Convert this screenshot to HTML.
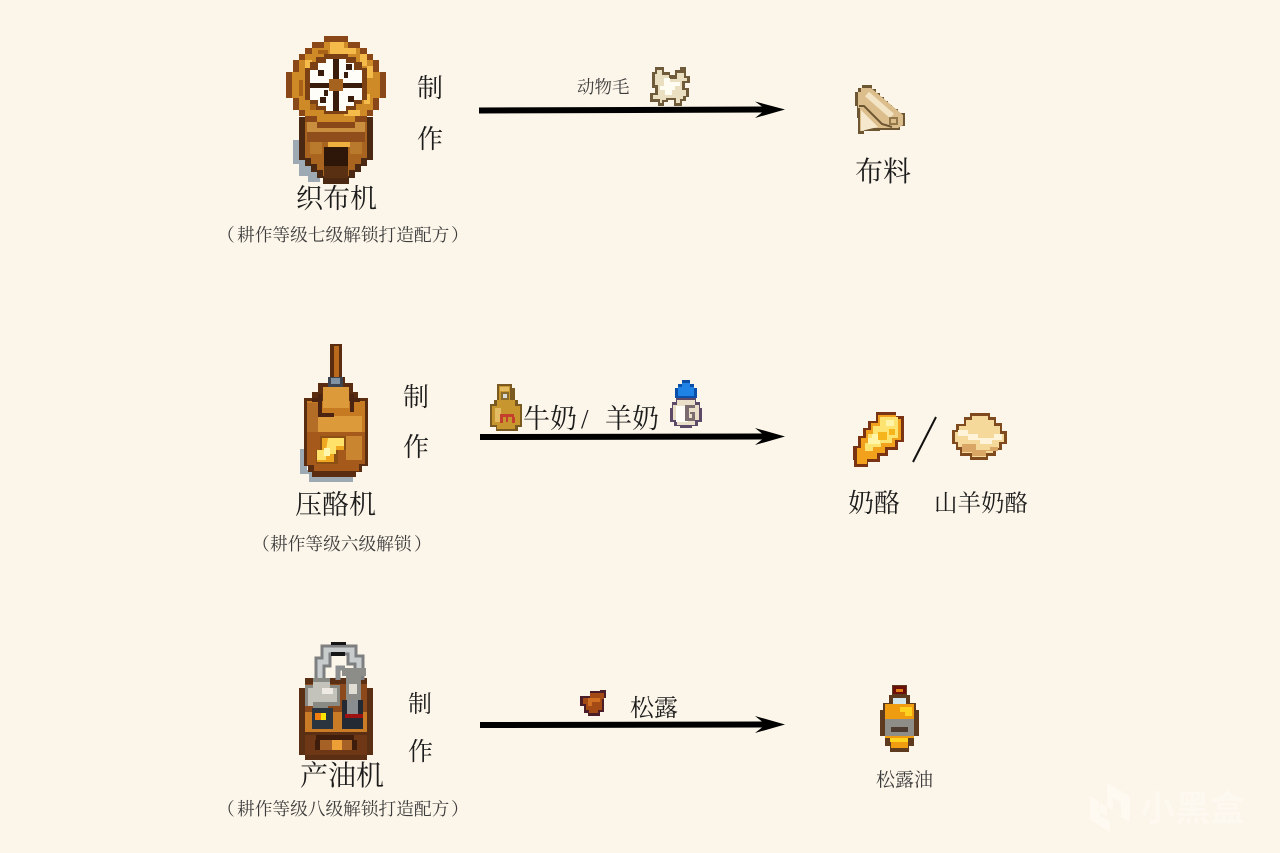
<!DOCTYPE html>
<html lang="zh"><head><meta charset="utf-8"><title>机器配方</title>
<style>
html,body{margin:0;padding:0;background:#fcf5e9}
svg{display:block;filter:blur(.35px)}
text{font-family:"Liberation Serif","Noto Serif CJK SC",serif;fill:#1c1c1c}
.s{fill:#3c3c3c}
.w{font-family:"Liberation Sans","Noto Sans CJK SC",sans-serif;font-weight:700;fill:#fffdf8;opacity:.55}
</style></head><body>
<svg width="1280" height="853" viewBox="0 0 1280 853" xmlns="http://www.w3.org/2000/svg">
<rect width="1280" height="853" fill="#fcf5e9"/>

<!-- arrows -->
<g fill="#000">
<path d="M479 107.500L762 106.500L755 101.500L785 109.500L755 118L762 112.500L479 113.500Z"/>
<path d="M480 434L762 433.500L755 428L785 436.500L755 445L762 439.500L480 440Z"/>
<path d="M480 722L762 721.500L755 716L785 724.500L755 733L762 727.500L480 728Z"/>
</g>

<!-- spinning wheel -->
<g>
<path fill="#9eaab3" d="M293 140H301V156H306V166H312V172H320V182H308V176H299V164H293Z"/>
<path fill="#4a2812" d="M299 117H373V160H367V166H361V172H355V178H349V184H323V178H317V172H311V166H305V160H299Z"/>
<path fill="#a9651f" d="M305 120H367V158H361V164H355V170H349V176H323V170H317V164H311V158H305Z"/>
<path fill="#c98f3e" d="M307 122H365V134H307Z"/>
<path fill="#8f4e1c" d="M307 132H365V142H307Z"/>
<path fill="#b97a2e" d="M310 142H322V154H310ZM350 142H362V154H350Z"/>
<path fill="#f0b040" d="M328 142H350V147H328Z"/>
<path fill="#2e1608" d="M324 147H348V168H324Z"/>
<path fill="#5a3012" d="M324 166H348V178H324Z"/>
<path fill="#8a4718" d="M324 36H348V42H360V48H367V54H373V60H379V72H386V98H379V110H373V116H367V122H355V128H317V122H305V116H299V110H293V98H286V72H293V60H299V54H305V48H312V42H324Z"/>
<path fill="#cf8a28" d="M324 42H348V48H360V54H367V60H373V72H380V98H373V110H367V116H355V122H317V116H305V110H299V98H292V72H299V60H305V54H312V48H324Z"/>
<path fill="#f5bb4a" d="M330 42H344V48H356V54H330ZM305 60H312V72H305ZM360 54H367V66H373V78H367V66H360ZM344 110H360V116H344ZM364 94H370V104H364Z"/>
<path fill="#a86218" d="M299 80H303V96H299ZM318 50H328V54H318ZM310 104H318V110H310Z"/>
<path fill="#7c4015" d="M324 54H348V57H356V62H362V68H367V100H362V104H356V110H348V114H324V110H316V104H310V100H305V68H310V62H316V57H324Z"/>
<path fill="#fffdf8" d="M326 59H346V63H354V70H362V100H354V106H346V111H326V106H318V100H310V70H318V63H326Z"/>
<path fill="#3a1c0c" d="M333 59H339V83H362V88H339V111H333V88H310V83H333ZM318 70H324V76H318ZM346 64H352V70H346ZM320 97H326V103H320ZM348 96H354V102H348ZM344 72H348V78H344ZM324 90H328V96H324Z"/>
<path fill="#a6621f" d="M329 79H343V91H329Z"/>
</g>

<!-- press -->
<g>
<path fill="#9eaab3" d="M300 449H307V470H312V476H353V482H309V474H300Z"/>
<path fill="#5a2c10" d="M330 344H342V377H345V383H353V392H358V398H368V466H362V472H356V477H312V472H308V466H304V398H312V392H318V383H328V377H330Z"/>
<path fill="#b96a1c" d="M334 346H339V377H334Z"/>
<path fill="#c67a22" d="M307 401H365V464H359V470H314V464H307Z"/>
<path fill="#dd9a3a" d="M323 387H349V408H323ZM316 416H362V432H316Z"/>
<path fill="#a55a1c" d="M307 432H365V464H359V471H314V465H307Z"/>
<path fill="#b46d26" d="M307 403H318V432H307Z"/>
<path fill="#4a2410" d="M318 394H322V413H334V417H318ZM350 394H354V412H350ZM312 398H318V402H312ZM354 398H360V402H354Z"/>
<path fill="#c9852f" d="M346 436H362V460H346Z"/>
<path fill="#3c4452" d="M328 377H343V387H328Z"/>
<path fill="#7f93a4" d="M331 378H340V384H331Z"/>
<path fill="#8c4f14" d="M320 436H346V450H338V464H316V450H320Z"/>
<path fill="#f0a820" d="M322 438H344V450H334V462H317V452H322Z"/>
<path fill="#ffe26a" d="M328 438H344V446H336V454H326V460H317V450H326Z"/>
<path fill="#fff7b0" d="M324 448H330V456H324Z"/>
</g>

<!-- oil maker -->
<g>
<path fill="#5a2f14" d="M305 678H367V688H373V755H367V760H305V755H299V688H305Z"/>
<path fill="#8c4a1c" d="M305 684H367V732H305Z"/>
<path fill="#c97b25" d="M305 712H367V732H305Z"/>
<path fill="#6e3716" d="M305 735H367V755H305Z"/>
<path fill="#3e1d0c" d="M316 735H354V740H316ZM315 740H320V750H315ZM352 740H357V750H352Z"/>
<path fill="#a66226" d="M320 740H352V750H320Z"/>
<path fill="#eda035" d="M332 740H342V750H332Z"/>
<path fill="none" stroke="#7e7f80" stroke-width="11" d="M320 692V662H326V650H352V660H359V680"/>
<path fill="none" stroke="#c8cccc" stroke-width="5" d="M320 688V662H326V650H352V660H359V676"/>
<path fill="none" stroke="#8d8e8f" stroke-width="5" d="M338 680V668H345"/>
<path fill="#151515" d="M331 642H346V645H331ZM331 652H345V656H331Z"/>
<path fill="#8a8a85" d="M313 678H330V685H340V706H328V712H313V706H305V685H313Z"/>
<path fill="#c4c3bb" d="M313 682H330V688H337V702H313V706H308V688H313Z"/>
<path fill="#eeeae3" d="M322 688H333V694H322Z"/>
<path fill="#2b3540" d="M312 708H333V729H312Z"/>
<path fill="#f07f10" d="M315 713H321V720H315Z"/>
<path fill="#ffe200" d="M321 713H326V720H321Z"/>
<path fill="#8c8c88" d="M342 668H366V676H361V700H346V676H342Z"/>
<path fill="#e0ddd5" d="M349 684H357V694H349Z"/>
<path fill="#242a33" d="M342 700H363V729H342Z"/>
<path fill="#8a8d90" d="M347 700H358V714H347Z"/>
<path fill="#9c1212" d="M345 714H363V718H345Z"/>
</g>

<!-- wool -->
<g>
<path fill="#6f5b3a" d="M655 67H664V72H670V75H675V70H680V67H686V76H690V83H685V88H689V97H686V101H682V106H674V100H668V102H664V106H658V102H650V93H655V88H652V72H655Z"/>
<path fill="#eadfc0" d="M657 70H662V75H669V79H677V73H684V78H687V81H682V90H686V96H683V99H680V103H676V98H666V100H662V103H660V99H653V95H658V85H655V74H657Z"/>
<path fill="#fffdf2" d="M664 78H670V82H680V86H675V90H672V95H665V90H660V86H664Z"/>
</g>

<!-- cloth -->
<g>
<path fill="#6e5632" d="M862 85H872V89H876V93H880V97H884V101H888V105H892V109H898V113H905V126H900V130H880V131H864V134H858V118H857V106H855V92H858V88H862Z"/>
<path fill="#dcbd8c" d="M858 92H861V88H871L903 115V125L898 128H864V131H860V108H858Z"/>
<path fill="none" stroke="#f3e4c5" stroke-width="6" d="M867 94L892 116"/>
<path fill="none" stroke="#6e5632" stroke-width="2" d="M859 106H864L882 124L892 127"/>
<path fill="#f5e8cd" d="M861 110L878 127L861 131Z"/>
<path fill="#94784a" d="M889 117H898V125H889Z"/>
<path fill="#dcbd8c" d="M891 119H896V123H891Z"/>
</g>

<!-- milk -->
<g>
<path fill="#7a5a20" d="M497 384H512V388H515V400H518V404H522V427H518V431H496V427H490V404H494V400H497V388Z"/>
<path fill="#c8962f" d="M499 386H510V400H515V406H520V425H515V429H497V425H492V406H497V400H499Z"/>
<path fill="#e3bb62" d="M500 387H509V391H500ZM495 408H501V422H495Z"/>
<path fill="#8a6a2a" d="M501 392H509V400H501Z"/>
<path fill="#d9d9d9" d="M503 394H507V398H503Z"/>
<path fill="#c4402c" d="M500 414H514V417H515V423H512V417H508V422H506V417H503V423H500Z"/>
</g>
<!-- goat milk -->
<g>
<path fill="#5c4a68" d="M676 398H696V402H700V408H702V422H698V426H692V428H680V426H674V422H670V408H672V402H676Z"/>
<path fill="#eadfc9" d="M677 400H695V405H699V420H695V425H677V420H673V405H677Z"/>
<path fill="#fffdf5" d="M676 406H688V422H676Z"/>
<path fill="#7b6c70" d="M685 405H695V408H689V418H692V414H690V412H695V421H685Z"/>
<path fill="#0b4fa8" d="M682 380H690V384H694V388H697V398H675V388H678V384H682Z"/>
<path fill="#1f83e6" d="M682 383H690V387H694V396H678V387H682Z"/>
</g>

<!-- truffle -->
<g>
<path fill="#4a1d28" d="M590 691H600V690H606V698H604V712H600V716H588V713H584V706H580V696H590Z"/>
<path fill="#a44a14" d="M590 693H604V699H602V710H598V713H589V710H586V704H583V698H590Z"/>
<path fill="#d06f22" d="M588 698H600V702H592V706H588Z"/>
</g>

<!-- cheese -->
<g>
<path fill="#7a3414" d="M876 412H896V416H904V442H898V450H888V456H880V462H868V467H854V460H853V446H858V436H863V428H868V421H876Z"/>
<path fill="#f2a11c" d="M878 415H896V419H901V440H895V447H885V453H877V459H867V464H857V448H861V438H866V430H871V423H878Z"/>
<path fill="#fde36f" d="M880 417H898V438H892V443H881V447H873V451H865V443H868V434H873V426H880Z"/>
<path fill="#fff4a8" d="M872 434H880V444H868V438H872ZM886 420H894V426H886Z"/>
<path fill="#f7b51d" d="M878 432H887V440H878ZM889 429H895V435H889Z"/>
</g>
<line x1="913" y1="462" x2="936" y2="417" stroke="#111" stroke-width="2"/>
<!-- goat cheese -->
<g>
<path fill="#7e4a1e" d="M970 413H990V417H996V423H1002V431H1007V444H1002V450H996V456H988V460H970V456H960V450H956V444H952V430H956V424H964V417H970Z"/>
<path fill="#f5d99a" d="M972 416H988V420H994V426H1000V434H1004V442H999V448H993V453H986V457H972V453H962V447H958V442H955V432H959V426H966V420H972Z"/>
<path fill="#fff4da" d="M958 430H968V434H978V438H994V434H1002V440H992V444H980V440H968V436H958Z"/>
<path fill="#d9a666" d="M962 444H976V450H990V447H998V451H986V456H972V452H962Z"/>
</g>

<!-- oil bottle -->
<g>
<path fill="#5e3a1f" d="M892 685H907V695H910V703H916V710H919V736H914V746H909V752H890V746H885V736H880V710H883V703H889V695H892Z"/>
<path fill="#6b0f0a" d="M893 686H906V694H893Z"/>
<path fill="#e17d1a" d="M896 689H903V692H896Z"/>
<path fill="#cfe6ec" d="M893 698H906V704H893Z"/>
<path fill="#ef9c10" d="M885 704H914V738H908V748H891V738H885Z"/>
<path fill="#ffd21f" d="M900 707H912V716H905V712H900ZM890 738H908V742H890Z"/>
<path fill="#8f8d88" d="M885 719H914V736H885Z"/>
<path fill="#4f3c30" d="M891 727H908V732H891Z"/>
</g>

<!-- labels: row 1 -->
<text x="296" y="208" font-size="27">织布机</text>
<text x="217" y="241" font-size="17.700" class="s">（</text>
<text x="237" y="241" font-size="17.700" class="s">耕作等级七级解锁打造配方</text>
<text x="451" y="241" font-size="17.700" class="s">）</text>
<text x="417" y="97" font-size="26">制</text>
<text x="417" y="148" font-size="26">作</text>
<text x="577" y="93" font-size="17.500" class="s">动物毛</text>
<text x="855" y="181" font-size="28">布料</text>

<!-- labels: row 2 -->
<text x="295" y="514" font-size="27">压酪机</text>
<text x="252" y="550" font-size="17.700" class="s">（</text>
<text x="270" y="550" font-size="17.700" class="s">耕作等级六级解锁</text>
<text x="414" y="550" font-size="17.700" class="s">）</text>
<text x="403" y="406" font-size="26">制</text>
<text x="403" y="456" font-size="26">作</text>
<text x="523" y="428" font-size="27">牛奶</text>
<text x="581" y="428" font-size="27">/</text>
<text x="605" y="428" font-size="27">羊奶</text>
<text x="848" y="512" font-size="26">奶酪</text>
<text x="934" y="511" font-size="23.500">山羊奶酪</text>

<!-- labels: row 3 -->
<text x="300" y="785" font-size="28">产油机</text>
<text x="217" y="815" font-size="17.700" class="s">（</text>
<text x="237" y="815" font-size="17.700" class="s">耕作等级八级解锁打造配方</text>
<text x="451" y="815" font-size="17.700" class="s">）</text>
<text x="408" y="712" font-size="24">制</text>
<text x="408" y="760" font-size="25">作</text>
<text x="630" y="716" font-size="24">松露</text>
<text x="876" y="786" font-size="19" class="s">松露油</text>

<!-- watermark -->
<g fill="#fffdf8" opacity=".55">
<path d="M1107 783L1130 796V822L1121 818V802L1113 798V810L1100 803V816L1110 821V832L1090 820V796L1099 801V812L1107 816Z"/>
</g>
<text x="1140" y="821" font-size="35" class="w">小黑盒</text>
</svg>
</body></html>
